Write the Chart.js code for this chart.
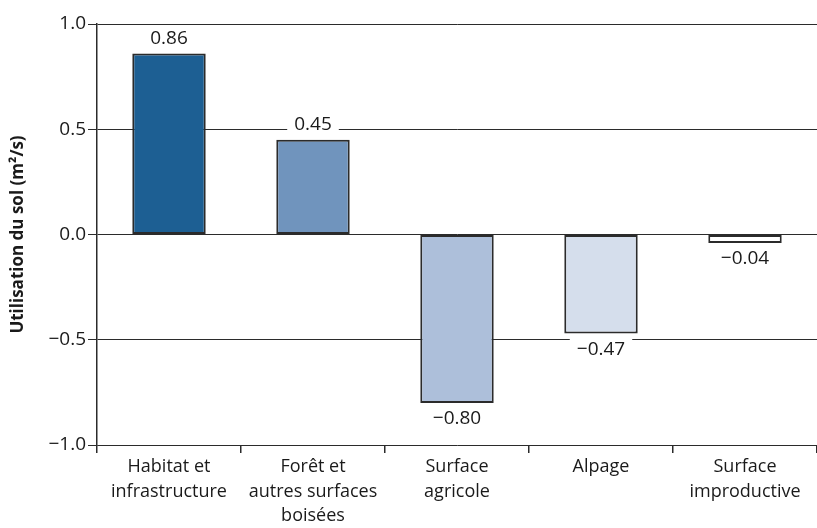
<!DOCTYPE html>
<html>
<head>
<meta charset="utf-8">
<script src="https://cdn.jsdelivr.net/npm/chart.js@4"></script>
<style>
  html, body { margin: 0; padding: 0; background: #fff; }
  #wrap { width: 817px; height: 528px; }
</style>
</head>
<body>
<div id="wrap"><canvas id="landChart"></canvas></div>
<script>
const categories = [
  ['Habitat et', 'infrastructure'],
  ['Forêt et', 'autres surfaces', 'boisées'],
  ['Surface', 'agricole'],
  ['Alpage'],
  ['Surface', 'improductive']
];
const values = [0.86, 0.45, -0.80, -0.47, -0.04];
const barColors = ['#1d5f93', '#7094bd', '#adbfda', '#d5deec', '#ffffff'];
const yTicks = [-1.0, -0.5, 0.0, 0.5, 1.0];

const FONT = '"Open Sans", "Noto Sans", sans-serif';
const fmt = v => v.toFixed(2).replace('-', '\u2212');

// value labels on a white box, so grid lines stop around them
const valueLabels = {
  id: 'valueLabels',
  afterDatasetsDraw(chart) {
    const ctx = chart.ctx;
    const meta = chart.getDatasetMeta(0);
    ctx.save();
    ctx.font = '19px ' + FONT;
    ctx.textAlign = 'center';
    ctx.textBaseline = 'middle';
    meta.data.forEach((bar, i) => {
      const v = values[i];
      const text = fmt(v);
      const y = v >= 0 ? bar.y - 15 : bar.y + 16;
      const w = ctx.measureText(text).width + 14;
      ctx.fillStyle = '#fff';
      ctx.fillRect(bar.x - w / 2, y - 11, w, 22);
      ctx.fillStyle = '#1a1a1a';
      ctx.fillText(text, bar.x, y);
    });
    ctx.restore();
  }
};

new Chart(document.getElementById('landChart'), {
  type: 'bar',
  data: {
    labels: categories,
    datasets: [{
      data: values,
      backgroundColor: barColors,
      borderColor: '#2b2b2b',
      borderWidth: 2,
      borderSkipped: false,
      categoryPercentage: 1,
      barPercentage: 0.51
    }]
  },
  options: {
    responsive: true,
    maintainAspectRatio: false,
    animation: false,
    layout: { padding: { top: 24, right: 0, left: 0, bottom: 0 } },
    plugins: {
      legend: { display: false },
      tooltip: { enabled: false }
    },
    scales: {
      x: {
        grid: {
          offset: true,
          drawOnChartArea: false,
          color: '#2b2b2b',
          lineWidth: 1.5,
          tickLength: 8
        },
        border: { display: false },
        ticks: {
          color: '#1a1a1a',
          font: { family: FONT, size: 18, lineHeight: 1.35 },
          padding: 2,
          maxRotation: 0,
          autoSkip: false
        },
        afterFit: s => { s.height = 83; }
      },
      y: {
        min: -1,
        max: 1,
        afterBuildTicks: s => { s.ticks = yTicks.map(v => ({ value: v })); },
        grid: {
          color: '#2b2b2b',
          lineWidth: 1,
          tickLength: 9
        },
        border: { display: true, color: '#2b2b2b', width: 1.5 },
        ticks: {
          color: '#1a1a1a',
          font: { family: FONT, size: 19 },
          padding: 2,
          callback: v => Number(v).toFixed(1).replace('-', '\u2212')
        },
        title: {
          display: true,
          text: 'Utilisation du sol (m²/s)',
          color: '#1a1a1a',
          font: { family: FONT, size: 17, weight: 'bold' },
          padding: { top: 8, bottom: 0 }
        },
        afterFit: s => { s.width = 97; }
      }
    }
  },
  plugins: [valueLabels]
});
</script>
</body>
</html>
